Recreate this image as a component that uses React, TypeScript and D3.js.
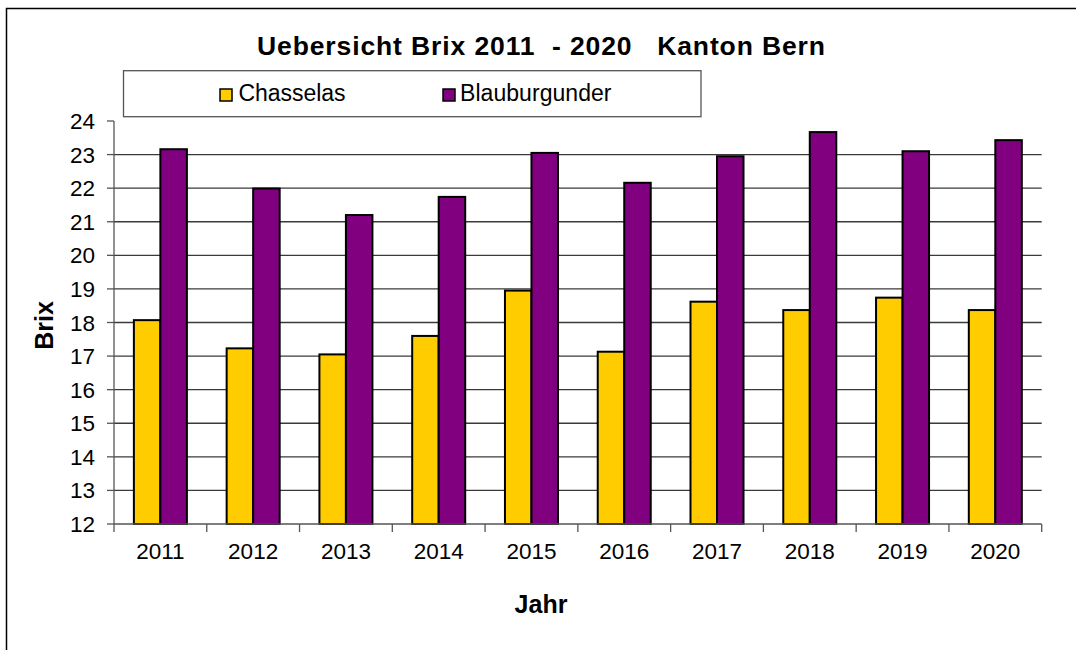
import React from 'react';
import * as d3 from 'd3';

const years = ['2011', '2012', '2013', '2014', '2015', '2016', '2017', '2018', '2019', '2020'];
const seriesNames = ['Chasselas', 'Blauburgunder'];
const chasselas = [18.07, 17.23, 17.05, 17.6, 18.95, 17.13, 18.62, 18.37, 18.74, 18.37];
const blauburgunder = [23.16, 21.99, 21.2, 21.74, 23.05, 22.16, 22.95, 23.67, 23.1, 23.43];
const seriesColors = ['#FFCC00', '#800080'];
const yTicks = [12, 13, 14, 15, 16, 17, 18, 19, 20, 21, 22, 23, 24];

const W = 1076;
const H = 650;
const FONT = '"Liberation Sans", Arial, Helvetica, sans-serif';

const App: React.FC = () => {
  const plot = { left: 114, right: 1041.7, top: 121, bottom: 524 };
  const values = [chasselas, blauburgunder];

  // Kategorien und Balken (Excel: Abstand 150%)
  const x0 = d3.scaleBand<string>().domain(years).range([plot.left, plot.right]).padding(0);
  const x1 = d3.scaleBand<string>().domain(seriesNames).range([0, x0.bandwidth()]).paddingInner(0).paddingOuter(0.75);
  const y = d3.scaleLinear().domain([12, 24]).range([plot.bottom, plot.top]);

  const boundaries = years.map(yr => x0(yr) as number).concat([plot.right]);

  // Legende: Position und Textbreite aus dem Bild
  const legendItems = [
    { x: 220, textX: 238.5, textW: 107 },
    { x: 443, textX: 460, textW: 151.5 },
  ];

  return (
    <svg width={W} height={H} style={{ position: 'absolute', left: 0, top: 0, background: '#fff' }} fontFamily={FONT}>
      <rect x={0} y={0} width={W} height={H} fill="#fff" />
      {/* Rahmen */}
      <rect x={6.5} y={8.5} width={W + 20} height={H + 20} fill="none" stroke="#000" strokeWidth={1.5} />

      <text x={257} y={55} fontSize={26.5} fontWeight="bold" fill="#000" textLength={568} lengthAdjust="spacing" style={{ whiteSpace: 'pre' }}>
        {'Uebersicht Brix 2011  - 2020   Kanton Bern'}
      </text>

      {/* Legende */}
      <rect x={123.5} y={70.7} width={577.5} height={46} fill="#fff" stroke="#555" strokeWidth={1.3} />
      {seriesNames.map((s, i) => (
        <g key={s}>
          <rect x={legendItems[i].x} y={89} width={12} height={12} fill={seriesColors[i]} stroke="#000" strokeWidth={1.5} />
          <text x={legendItems[i].textX} y={100.5} fontSize={23} fill="#000" textLength={legendItems[i].textW} lengthAdjust="spacing">{s}</text>
        </g>
      ))}

      {/* Gitterlinien */}
      {yTicks.filter(t => t > 12 && t < 24).map(t => (
        <line key={t} x1={plot.left} x2={plot.right} y1={y(t)} y2={y(t)} stroke="#3a3a3a" strokeWidth={1.3} />
      ))}

      {/* Balken */}
      {years.map((yr, i) => (
        <g key={yr} transform={`translate(${x0(yr)},0)`}>
          {seriesNames.map((s, j) => (
            <rect
              key={s}
              x={x1(s)}
              y={y(values[j][i])}
              width={x1.bandwidth()}
              height={y(12) - y(values[j][i])}
              fill={seriesColors[j]}
              stroke="#000"
              strokeWidth={2}
            />
          ))}
        </g>
      ))}

      {/* Achsen */}
      <line x1={plot.left} x2={plot.left} y1={plot.top} y2={plot.bottom} stroke="#555" strokeWidth={1.3} />
      <line x1={plot.left} x2={plot.right} y1={plot.bottom} y2={plot.bottom} stroke="#555" strokeWidth={1.3} />
      {yTicks.map(t => (
        <g key={t}>
          <line x1={plot.left - 7} x2={plot.left} y1={y(t)} y2={y(t)} stroke="#555" strokeWidth={1.3} />
          <text x={95} y={y(t) + 8} textAnchor="end" fontSize={22.5} fill="#000">{t}</text>
        </g>
      ))}
      {boundaries.map((bx, i) => (
        <line key={i} x1={bx} x2={bx} y1={plot.bottom} y2={plot.bottom + 8} stroke="#555" strokeWidth={1.3} />
      ))}
      {years.map(yr => (
        <text key={yr} x={(x0(yr) as number) + x0.bandwidth() / 2} y={559} textAnchor="middle" fontSize={22.5} fill="#000">{yr}</text>
      ))}

      <text x={541} y={612.5} textAnchor="middle" fontSize={25} fontWeight="bold" fill="#000">Jahr</text>
      <text transform={`translate(53,${(plot.top + plot.bottom) / 2 + 3}) rotate(-90)`} textAnchor="middle" fontSize={25} fontWeight="bold" fill="#000">Brix</text>
    </svg>
  );
};

export default App;
